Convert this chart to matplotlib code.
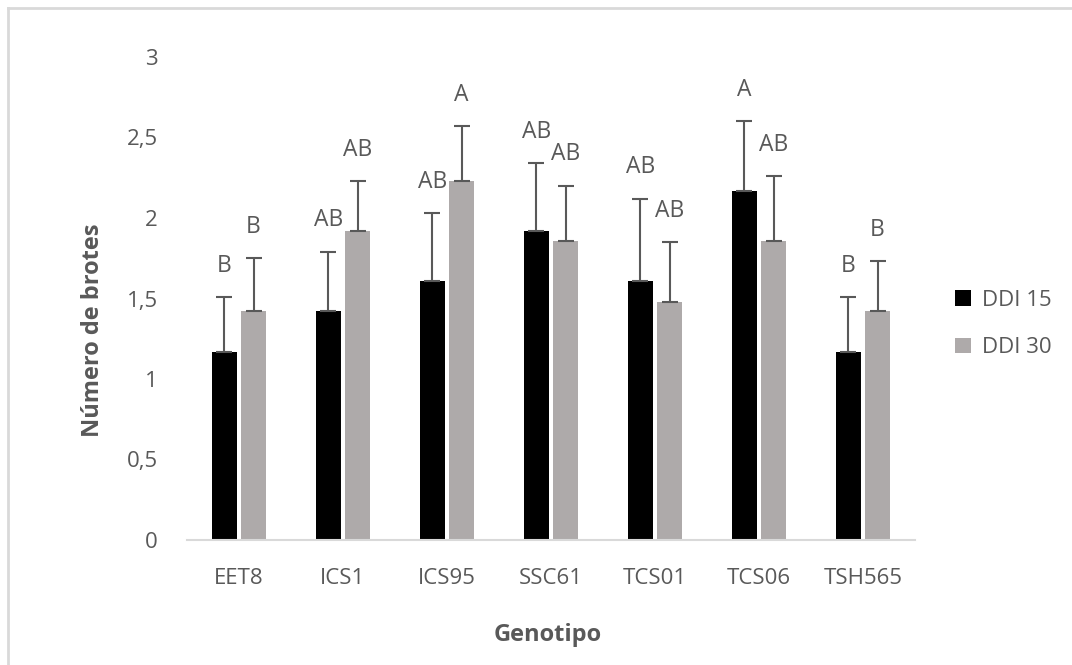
import matplotlib
matplotlib.use('Agg')
from matplotlib import pyplot as plt
from matplotlib.lines import Line2D
import numpy as np

genotipos = ['EET8', 'ICS1', 'ICS95', 'SSC61', 'TCS01', 'TCS06', 'TSH565']
ddi15 = [1.17, 1.42, 1.61, 1.92, 1.61, 2.17, 1.17]
ddi15_err = [0.34, 0.37, 0.42, 0.42, 0.51, 0.43, 0.34]
ddi30 = [1.42, 1.92, 2.23, 1.86, 1.48, 1.86, 1.42]
ddi30_err = [0.33, 0.31, 0.34, 0.34, 0.37, 0.40, 0.31]
letras15 = ['B', 'AB', 'AB', 'AB', 'AB', 'A', 'B']
letras30 = ['B', 'AB', 'A', 'AB', 'AB', 'AB', 'B']

gris_texto = '#595959'
plt.rcParams['font.family'] = ['Open Sans', 'DejaVu Sans']

fig = plt.figure(figsize=(10.72, 6.65), dpi=100)
ax = fig.add_axes([187 / 1072, 125 / 665, 728 / 1072, 483 / 665])

x = np.arange(len(genotipos))
ancho = 0.24
desp = 0.14
err_kw = dict(ecolor=gris_texto, elinewidth=1.5, capsize=6, capthick=1.5)

ax.bar(x - desp, ddi15, ancho, color='#000000', yerr=[np.zeros(7), ddi15_err],
       error_kw=err_kw, label='DDI 15', zorder=2)
ax.bar(x + desp, ddi30, ancho, color='#AEAAAA', yerr=[np.zeros(7), ddi30_err],
       error_kw=err_kw, label='DDI 30', zorder=2)

for i in range(len(genotipos)):
    ax.text(x[i] - desp, ddi15[i] + ddi15_err[i] + 0.12, letras15[i], ha='center',
            va='bottom', fontsize=16.5, color=gris_texto)
    ax.text(x[i] + desp, ddi30[i] + ddi30_err[i] + 0.12, letras30[i], ha='center',
            va='bottom', fontsize=16.5, color=gris_texto)

ax.set_xlim(-0.5, 6.5)
ax.set_ylim(0, 3)
ax.set_yticks([0, 0.5, 1, 1.5, 2, 2.5, 3])
ax.set_yticklabels(['0', '0,5', '1', '1,5', '2', '2,5', '3'])
ax.set_xticks(x)
ax.set_xticklabels(genotipos)
ax.tick_params(axis='both', length=0, labelsize=16, labelcolor=gris_texto)
ax.tick_params(axis='y', pad=21)
ax.tick_params(axis='x', pad=20)

for lado in ['top', 'right', 'left']:
    ax.spines[lado].set_visible(False)
ax.spines['bottom'].set_color('#D9D9D9')
ax.spines['bottom'].set_linewidth(1.5)

ax.set_ylabel('Número de brotes', fontsize=17, fontweight='bold', color=gris_texto)
ax.set_xlabel('Genotipo', fontsize=17, fontweight='bold', color=gris_texto)
ax.yaxis.set_label_coords(-0.112, 0.434)
ax.xaxis.set_label_coords(0.496, -0.172)

ax.legend(loc='center left', bbox_to_anchor=(935 / 1072, 341 / 665),
          bbox_transform=fig.transFigure, frameon=False, fontsize=16,
          handlelength=0.7, handleheight=0.7, handletextpad=0.5,
          labelspacing=1.2, labelcolor=gris_texto)

# borde del grafico (solo izquierdo y superior visibles)
fig.add_artist(Line2D([8 / 1072, 8 / 1072], [0, 657 / 665], transform=fig.transFigure,
                      color='#D9D9D9', linewidth=2))
fig.add_artist(Line2D([8 / 1072, 1], [657 / 665, 657 / 665], transform=fig.transFigure,
                      color='#D9D9D9', linewidth=2))

plt.savefig('out.png', dpi=100)
